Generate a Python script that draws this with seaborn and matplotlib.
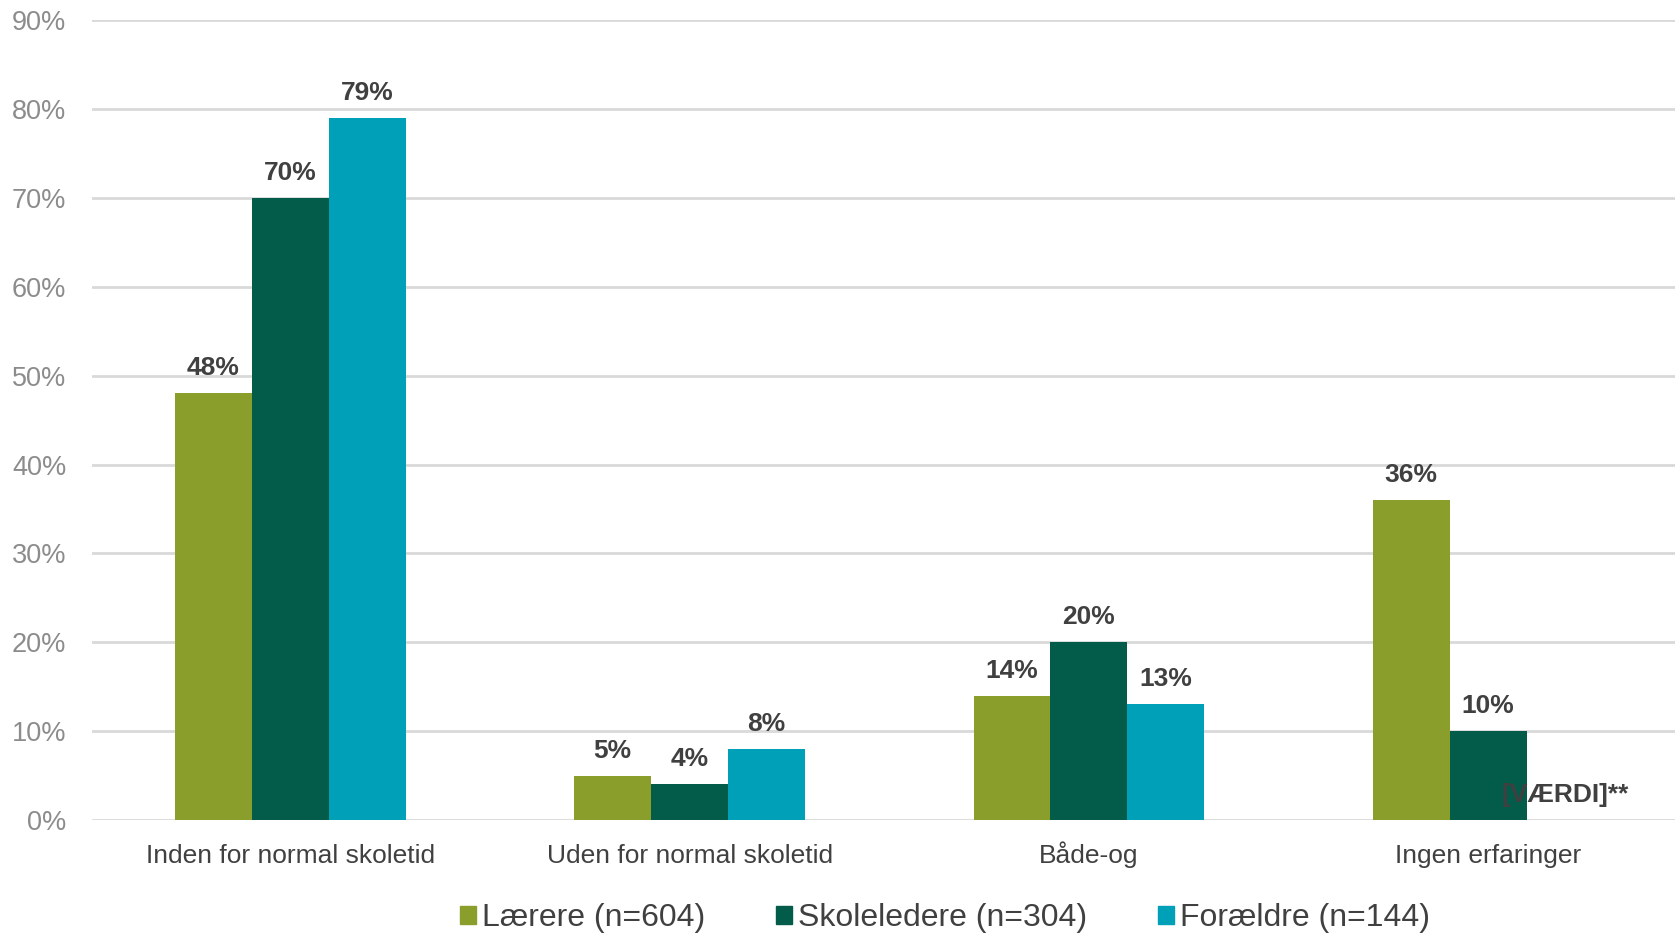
import matplotlib
matplotlib.use("Agg")
import matplotlib.pyplot as plt
import seaborn as sns
import pandas as pd
import numpy as np
from matplotlib.ticker import FuncFormatter

categories = ["Inden for normal skoletid", "Uden for normal skoletid", "Både-og", "Ingen erfaringer"]
series_names = ["Lærere (n=604)", "Skoleledere (n=304)", "Forældre (n=144)"]
laerere = [48, 5, 14, 36]
skoleledere = [70, 4, 20, 10]
foraeldre = [79, 8, 13, 0]
foraeldre_labels = ["79%", "8%", "13%", "[VÆRDI]**"]
yticks = [0, 10, 20, 30, 40, 50, 60, 70, 80, 90]

colors = ["#8A9E2B", "#035B4A", "#00A0B8"]

rows = []
for name, vals in zip(series_names, [laerere, skoleledere, foraeldre]):
    for c, v in zip(categories, vals):
        rows.append({"cat": c, "series": name, "value": v})
df = pd.DataFrame(rows)

sns.set_theme(style="white")
plt.rcParams['font.family'] = ['Liberation Sans', 'DejaVu Sans']

fig = plt.figure(figsize=(16.75, 9.34), dpi=100)
ax = fig.add_axes([92/1675, 1 - 820/934, 1 - 92/1675, (820 - 20.3)/934])

sns.barplot(data=df, x="cat", y="value", hue="series", order=categories,
            hue_order=series_names, palette=colors, width=0.578, gap=0,
            saturation=1, ax=ax, edgecolor="none", linewidth=0, zorder=3)

ax.set_ylim(0, 90)
ax.set_xlim(-0.497, 3.468)
ax.set_yticks(yticks)
ax.yaxis.set_major_formatter(FuncFormatter(lambda v, p: f"{int(v)}%"))
ax.grid(axis="y", color="#D9D9D9", linewidth=2, zorder=0)
ax.set_axisbelow(True)
for s in ax.spines.values():
    s.set_visible(False)
ax.set_xlabel("")
ax.set_ylabel("")
ax.tick_params(axis="y", labelsize=19.5, labelcolor="#8C8C8C", length=0, pad=18.5)
ax.tick_params(axis="x", labelsize=19, labelcolor="#404040", length=0, pad=31)
for lbl in ax.get_xticklabels():
    lbl.set_verticalalignment("baseline")

# data labels
label_sets = [[f"{v}%" for v in laerere], [f"{v}%" for v in skoleledere], foraeldre_labels]
containers = ax.containers
for cont, labels in zip(containers, label_sets):
    for bar, lab in zip(cont.patches, labels):
        x = bar.get_x() + bar.get_width() / 2
        y = bar.get_height()
        ax.annotate(lab, (x, y), xytext=(0, 13), textcoords="offset points",
                    ha="center", va="baseline", fontsize=19, fontweight="bold",
                    color="#404040", zorder=5)

leg = ax.get_legend()
if leg is not None:
    leg.remove()
handles = [plt.Rectangle((0, 0), 1, 1, color=c) for c in colors]
fig.legend(handles, series_names, loc="center", bbox_to_anchor=(945/1675, 1 - 918/934),
           ncol=3, frameon=False, fontsize=23, handlelength=0.5, handleheight=0.5,
           handletextpad=0.2, columnspacing=2.2, labelcolor="#404040")

fig.savefig("out.png", dpi=100)
